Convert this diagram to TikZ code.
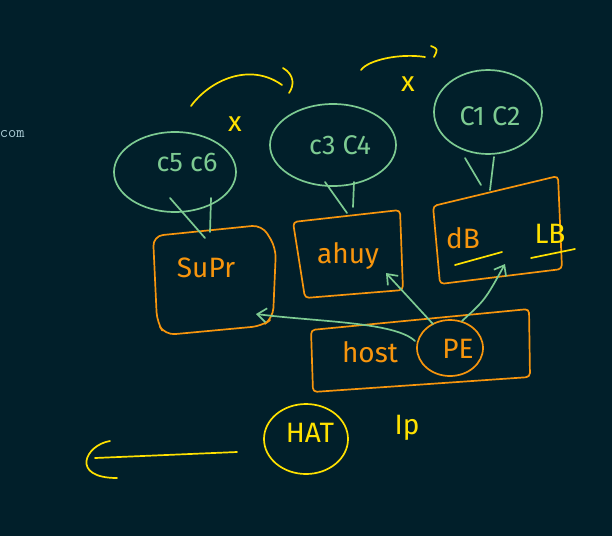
\documentclass[tikz,border=0pt]{standalone}
\usepackage{fontspec}
\setmainfont{Fira Sans}
\usetikzlibrary{arrows.meta,shapes.geometric}
\definecolor{bg}{HTML}{011F2A}
\definecolor{gr}{HTML}{7DCB92}
\definecolor{orr}{HTML}{F7950D}
\definecolor{yl}{HTML}{FFE100}
\definecolor{gy}{HTML}{A9C9D3}
\begin{document}
\begin{tikzpicture}[x=1pt,y=-1pt,line width=1.7pt,line cap=round,line join=round,
  blob/.style={ellipse,draw=gr,inner sep=0pt},
  oline/.style={draw=orr,rounded corners=4pt},
  gtext/.style={text=gr,font=\fontsize{27}{30}\selectfont},
  otext/.style={text=orr,font=\fontsize{28}{30}\selectfont},
  ytext/.style={text=yl,font=\fontsize{28}{30}\selectfont},
  garrow/.style={draw=gr,-{Straight Barb[length=9pt,width=14pt]}},
  yline/.style={draw=yl}]
\fill[bg] (0,0) rectangle (612,536);
\useasboundingbox (0,0) rectangle (612,536);
% stray text
\node[text=gy,font=\ttfamily\fontsize{16}{18}\selectfont,anchor=west,inner sep=0pt] (com) at (-1,134) {com};
% clouds
\node[blob,minimum width=122pt,minimum height=80pt] (e56) at (175,172) {};
\node[gtext] (t56) at (187,162) {c5 c6};
\node[blob,minimum width=126pt,minimum height=82pt] (e34) at (333,145) {};
\node[gtext] (t34) at (340,145) {c3 C4};
\node[blob,minimum width=108pt,minimum height=84pt] (e12) at (488,112) {};
\node[gtext] (t12) at (490,116) {C1 C2};
% yellow marks
\coordinate (ya1) at (191,106);
\coordinate (ya2) at (282,85);
\draw[yline] (ya1) .. controls (210,80) and (250,62) .. (ya2);
\coordinate (yp1) at (283,68);
\coordinate (yp2) at (289,93);
\draw[yline] (yp1) .. controls (295,75) and (294,86) .. (yp2);
\coordinate (yb1) at (361,70);
\coordinate (yb2) at (425,57);
\draw[yline] (yb1) .. controls (368,60) and (400,53) .. (yb2);
\coordinate (yq1) at (431,46);
\coordinate (yq2) at (434,57);
\draw[yline] (yq1) .. controls (438,49) .. (yq2);
\node[ytext] (x1) at (235,124) {x};
\node[ytext] (x2) at (408,84) {x};
% SUPR box
\coordinate (s1) at (153,236);
\coordinate (s2) at (262,225);
\coordinate (s3) at (276,248);
\coordinate (s4) at (273,318);
\coordinate (s5) at (262,326);
\coordinate (s6) at (165,335);
\coordinate (s7) at (157,322);
\draw[oline,rounded corners=10pt] (s1) -- (s2) -- (s3) -- (s4) -- (s5) -- (s6) -- (s7) -- cycle;
\node[otext] (suprt) at (206,268) {SuPr};
% ahuy box
\coordinate (h1) at (293,222);
\coordinate (h2) at (400,210);
\coordinate (h3) at (403,290);
\coordinate (h4) at (305,298);
\draw[oline] (h1) -- (h2) -- (h3) -- (h4) -- cycle;
\node[otext] (ahuyt) at (348,256) {ahuy};
% dB / LB box
\coordinate (d1) at (433,206);
\coordinate (d2) at (558,176);
\coordinate (d3) at (562,269);
\coordinate (d4) at (440,284);
\draw[oline] (d1) -- (d2) -- (d3) -- (d4) -- cycle;
\node[otext] (dbt) at (463,238) {dB};
\node[ytext] (lbt) at (550,234) {LB};
\coordinate (u1) at (455,265);
\coordinate (u2) at (502,252);
\draw[yline] (u1) -- (u2);
\coordinate (u3) at (531,258);
\coordinate (u4) at (575,249);
\draw[yline] (u3) -- (u4);
% host box
\coordinate (o1) at (311,330);
\coordinate (o2) at (529,309);
\coordinate (o3) at (530,377);
\coordinate (o4) at (313,392);
\draw[oline] (o1) -- (o2) -- (o3) -- (o4) -- cycle;
\node[otext] (hostt) at (370,352) {host};
\node[ellipse,draw=orr,inner sep=0pt,minimum width=66pt,minimum height=56pt] (pe) at (450,348) {};
\node[otext] (pet) at (458,349) {PE};
% cloud links
\coordinate (l1) at (170,198);
\coordinate (l1b) at (205,238);
\draw[gr] (l1) -- (l1b);
\coordinate (l2) at (211,198);
\coordinate (l2b) at (210,232);
\draw[gr] (l2) -- (l2b);
\coordinate (l3) at (325,182);
\coordinate (l3b) at (347,213);
\draw[gr] (l3) -- (l3b);
\coordinate (l4) at (354,182);
\coordinate (l4b) at (353,207);
\draw[gr] (l4) -- (l4b);
\coordinate (l5) at (465,158);
\coordinate (l5b) at (481,185);
\draw[gr] (l5) -- (l5b);
\coordinate (l6) at (494,157);
\coordinate (l6b) at (490,190);
\draw[gr] (l6) -- (l6b);
% arrows from PE
\coordinate (a1) at (256,314);
\coordinate (p1) at (415,341);
\draw[garrow] (p1) .. controls (395,322) and (320,322) .. (a1);
\coordinate (a2) at (386,273);
\coordinate (p2) at (433,324);
\draw[garrow] (p2) -- (a2);
\coordinate (a3) at (505,264);
\coordinate (p3) at (462,321);
\draw[garrow] (p3) .. controls (485,300) .. (a3);
% bottom
\node[ellipse,draw=yl,inner sep=0pt,minimum width=84pt,minimum height=70pt] (hat) at (306,439) {};
\node[ytext] (hatt) at (310,433) {HAT};
\node[ytext] (ip) at (407,428) {Ip};
\coordinate (ar1) at (237,452);
\coordinate (ar2) at (95,458);
\draw[yline] (ar1) -- (ar2);
\coordinate (ah1) at (110,441);
\coordinate (ah2) at (117,478);
\draw[yline] (ah1) .. controls (85,445) and (70,478) .. (ah2);
\end{tikzpicture}
\end{document}
